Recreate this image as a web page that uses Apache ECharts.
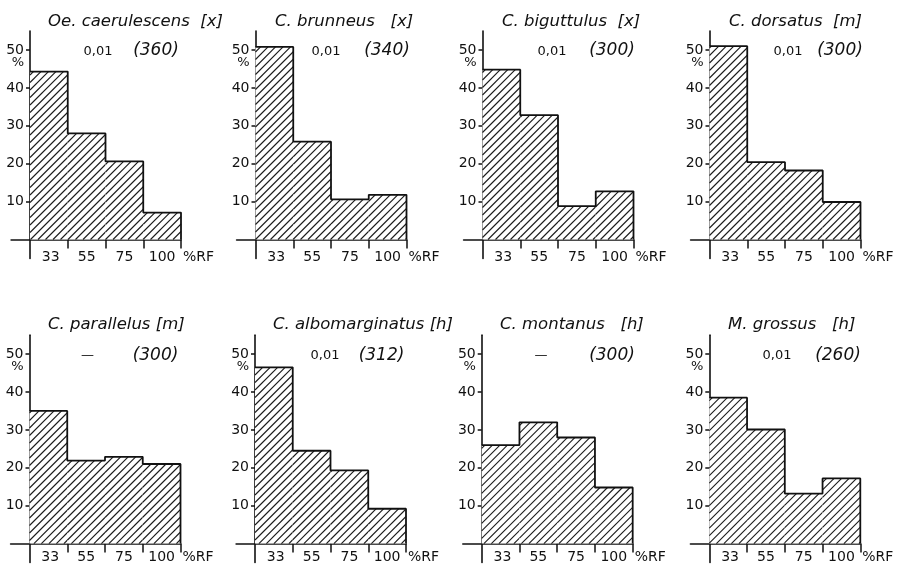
<!DOCTYPE html>
<html>
<head>
<meta charset="utf-8">
<script src="https://cdn.jsdelivr.net/npm/echarts@6/dist/echarts.min.js"></script>
<style>
html,body{margin:0;padding:0;background:#fff;}
#chart{width:906px;height:568px;}
</style>
</head>
<body>
<div id="chart"></div>
<script>
// ---- data ----
const rfLabels = ['33', '55', '75', '100'];
const speciesTitles = [
  'Oe. caerulescens  [x]', 'C. brunneus   [x]', 'C. biguttulus  [x]', 'C. dorsatus  [m]',
  'C. parallelus [m]', 'C. albomarginatus [h]', 'C. montanus   [h]', 'M. grossus   [h]'
];
const significance = ['0,01', '0,01', '0,01', '0,01', '—', '0,01', '—', '0,01'];
const sampleSizes = ['(360)', '(340)', '(300)', '(300)', '(300)', '(312)', '(300)', '(260)'];
const oeCaerulescens = [44.3, 28, 20.6, 7.1];
const cBrunneus = [50.8, 25.8, 10.6, 11.8];
const cBiguttulus = [44.8, 32.8, 8.8, 12.7];
const cDorsatus = [51, 20.4, 18.2, 9.9];
const cParallelus = [35, 21.9, 22.9, 21];
const cAlbomarginatus = [46.5, 24.5, 19.3, 9.2];
const cMontanus = [26, 32, 28, 14.8];
const mGrossus = [38.5, 30.1, 13.2, 17.2];
const allValues = [oeCaerulescens, cBrunneus, cBiguttulus, cDorsatus,
                   cParallelus, cAlbomarginatus, cMontanus, mGrossus];
const yTicks = [10, 20, 30, 40, 50];

// ---- layout ----
const axisX = [30, 255.5, 482.5, 709.5, 29.5, 255, 481.7, 709.3];
const zeroY = [239.5, 239.5, 239.5, 239.5, 543.6, 543.6, 543.6, 543.6];
const xLabelGap = [11, 11, 11, 11, 7, 7, 7, 7];
const unitY = 3.79;   // px per %
const binW = 37.75;   // px per bin
const titleLeft = [48, 275, 502, 729, 48, 273, 500, 728];
const titleCY = [22, 22, 22, 22, 325, 325, 325, 325];
const sigX = [98, 326, 552, 788, 87.5, 325, 541, 777];
const nX = [156, 387, 612, 840, 155.5, 381.5, 612, 838];
const HATCH = 7.5;

function renderHatchBar(params, api) {
  const k = api.value(0), v = api.value(1);
  const pa = api.coord([k, 0]);
  const pb = api.coord([k + 1, v]);
  const x0 = pa[0], x1 = pb[0], y0 = pb[1], y1 = pa[1];
  const children = [{
    type: 'rect', shape: { x: x0, y: y0, width: x1 - x0, height: y1 - y0 },
    style: { fill: '#fff' }
  }];
  const kStart = Math.ceil((x0 + y0) / HATCH) * HATCH;
  for (let s = kStart; s <= x1 + y1; s += HATCH) {
    const xs = Math.max(x0, s - y1);
    const xe = Math.min(x1, s - y0);
    if (xe > xs) {
      children.push({
        type: 'line',
        shape: { x1: xs, y1: s - xs, x2: xe, y2: s - xe },
        style: { stroke: '#1a1a1a', lineWidth: 1.1 }
      });
    }
  }
  return { type: 'group', children: children };
}

const font = 'DejaVu Sans';
const ink = '#111';
const grids = [], xAxes = [], yAxes = [], series = [], titles = [];
for (let i = 0; i < 8; i++) {
  const top = zeroY[i] - 55 * unitY;
  // inner grid: data area, ticks and labels
  grids.push({ left: axisX[i], top: top, width: 4 * binW, height: 55 * unitY,
               containLabel: false, outerBoundsMode: 'none' });
  // outer grid: only the extended axis lines
  grids.push({ left: axisX[i] - 0.5 * binW, top: top, width: 4.5 * binW, height: 60 * unitY,
               containLabel: false, outerBoundsMode: 'none' });
  const gi = 2 * i, go = 2 * i + 1;
  xAxes.push({
    type: 'value', gridIndex: gi, min: 0, max: 4,
    axisLine: { show: false },
    axisTick: { show: true, customValues: [1, 2, 3, 4], length: 9, lineStyle: { color: ink, width: 1.5 } },
    axisLabel: {
      customValues: [0.55, 1.5, 2.5, 3.5], margin: xLabelGap[i],
      formatter: v => rfLabels[Math.floor(v)],
      color: ink, fontFamily: font, fontSize: 14
    },
    splitLine: { show: false },
    name: '%RF', nameLocation: 'end', nameGap: 2,
    nameTextStyle: { color: ink, fontFamily: font, fontSize: 14, verticalAlign: 'top', padding: [xLabelGap[i], 0, 0, 0] }
  });
  yAxes.push({
    type: 'value', gridIndex: gi, min: 0, max: 55,
    axisLine: { show: false },
    axisTick: { show: true, customValues: yTicks, length: 4, lineStyle: { color: ink, width: 1.5 } },
    axisLabel: { customValues: yTicks, margin: 6, color: ink, fontFamily: font, fontSize: 14 },
    splitLine: { show: false }
  });
  xAxes.push({
    type: 'value', gridIndex: go, min: -0.5, max: 4,
    axisLine: { onZero: true, lineStyle: { color: ink, width: 1.6 } },
    axisTick: { show: false }, axisLabel: { show: false }, splitLine: { show: false }
  });
  yAxes.push({
    type: 'value', gridIndex: go, min: -5, max: 55,
    axisLine: { show: true, onZero: true, lineStyle: { color: ink, width: 1.6 } },
    axisTick: { show: false }, axisLabel: { show: false }, splitLine: { show: false }
  });
  const v = allValues[i];
  series.push({
    type: 'custom', xAxisIndex: gi, yAxisIndex: gi, silent: true, clip: false, z: 2,
    data: v.map((y, k) => [k, y]),
    encode: { x: 0, y: 1 },
    renderItem: renderHatchBar
  });
  const pts = v.map((y, k) => [k, y]);
  pts.push([4, v[3]]);
  pts.push([4, 0]);
  series.push({
    type: 'line', xAxisIndex: gi, yAxisIndex: gi, data: pts, step: 'end', z: 3,
    symbol: 'none', silent: true, animation: false, clip: false,
    lineStyle: { color: ink, width: 1.8 }
  });
  titles.push({
    text: speciesTitles[i], left: titleLeft[i], top: titleCY[i] - 9, padding: 0,
    textStyle: { fontFamily: font, fontStyle: 'italic', fontWeight: 'normal', fontSize: 16.5, color: ink }
  });
  titles.push({
    text: significance[i], left: sigX[i], top: zeroY[i] - 194, textAlign: 'center', padding: 0,
    textStyle: { fontFamily: font, fontWeight: 'normal', fontSize: 13, color: ink }
  });
  titles.push({
    text: sampleSizes[i], left: nX[i], top: zeroY[i] - 197, textAlign: 'center', padding: 0,
    textStyle: { fontFamily: font, fontStyle: 'italic', fontWeight: 'normal', fontSize: 17, color: ink }
  });
  titles.push({
    text: '%', left: axisX[i] - 12, top: zeroY[i] - 183, textAlign: 'center', padding: 0,
    textStyle: { fontFamily: font, fontWeight: 'normal', fontSize: 13, color: ink }
  });
}

const chart = echarts.init(document.getElementById('chart'), null, { renderer: 'canvas' });
chart.setOption({
  backgroundColor: '#fff',
  animation: false,
  title: titles,
  grid: grids,
  xAxis: xAxes,
  yAxis: yAxes,
  series: series
});
</script>
</body>
</html>
